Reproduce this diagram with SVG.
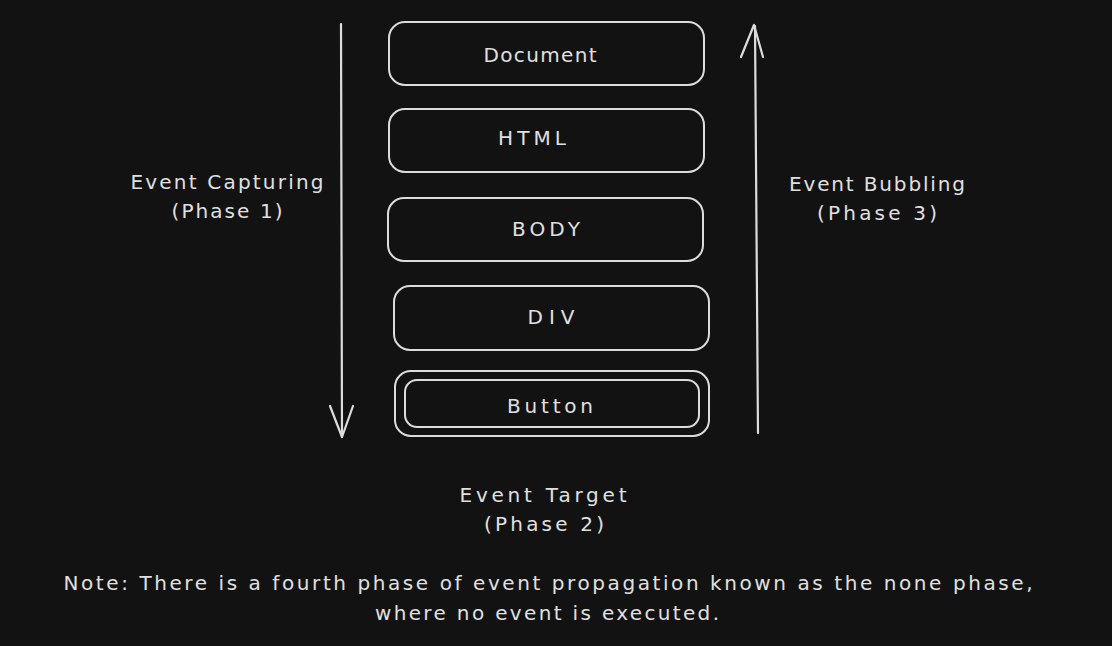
<svg xmlns="http://www.w3.org/2000/svg" width="1112" height="646" viewBox="0 0 1112 646">
<style>
.box{fill:none;stroke:#dcdcdc;stroke-width:2;}
.ln{fill:none;stroke:#dcdcdc;stroke-width:2.2;stroke-linecap:round;stroke-linejoin:round;}
text{font-family:"DejaVu Sans","Liberation Sans",sans-serif;font-size:20px;fill:#e0e0e0;text-anchor:middle;}
</style>
<rect width="1112" height="646" fill="#121212"/>
<g id="connectors">
<g id="capturing-arrow">
<path class="ln" d="M341 24 L342 437"/>
<path class="ln" d="M330 406 L342 437 L353 406"/>
</g>
<g id="bubbling-arrow">
<path class="ln" d="M758 433 L755 26"/>
<path class="ln" d="M741 57 L754 25 L763 57"/>
</g>
</g>
<g id="document">
<rect class="box" x="389" y="22" width="315" height="63" rx="16"/>
<text x="540" y="62" textLength="113" lengthAdjust="spacing">Document</text>
</g>
<g id="html">
<rect class="box" x="389" y="109" width="315" height="63" rx="16"/>
<text x="532" y="145" textLength="68" lengthAdjust="spacing">HTML</text>
</g>
<g id="body">
<rect class="box" x="388" y="198" width="315" height="63" rx="16"/>
<text x="546" y="236" textLength="68" lengthAdjust="spacing">BODY</text>
</g>
<g id="div">
<rect class="box" x="394" y="286" width="315" height="64" rx="16"/>
<text x="551" y="324" textLength="47" lengthAdjust="spacing">DIV</text>
</g>
<g id="button">
<rect class="box" x="395" y="371" width="314" height="65" rx="16"/>
<rect class="box" x="405" y="380" width="294" height="47" rx="12"/>
<text x="550" y="413" textLength="86" lengthAdjust="spacing">Button</text>
</g>
<g id="label-capturing">
<text x="227" y="189" textLength="193" lengthAdjust="spacing">Event Capturing</text>
<text x="227" y="218" textLength="111" lengthAdjust="spacing">(Phase 1)</text>
</g>
<g id="label-bubbling">
<text x="877" y="191" textLength="176" lengthAdjust="spacing">Event Bubbling</text>
<text x="877" y="220" textLength="120" lengthAdjust="spacing">(Phase 3)</text>
</g>
<g id="label-target">
<text x="543" y="502" textLength="167" lengthAdjust="spacing">Event Target</text>
<text x="544" y="531" textLength="120" lengthAdjust="spacing">(Phase 2)</text>
</g>
<g id="note">
<text x="548" y="590" textLength="969" lengthAdjust="spacing">Note: There is a fourth phase of event propagation known as the none phase,</text>
<text x="547" y="620" textLength="344" lengthAdjust="spacing">where no event is executed.</text>
</g>
</svg>
